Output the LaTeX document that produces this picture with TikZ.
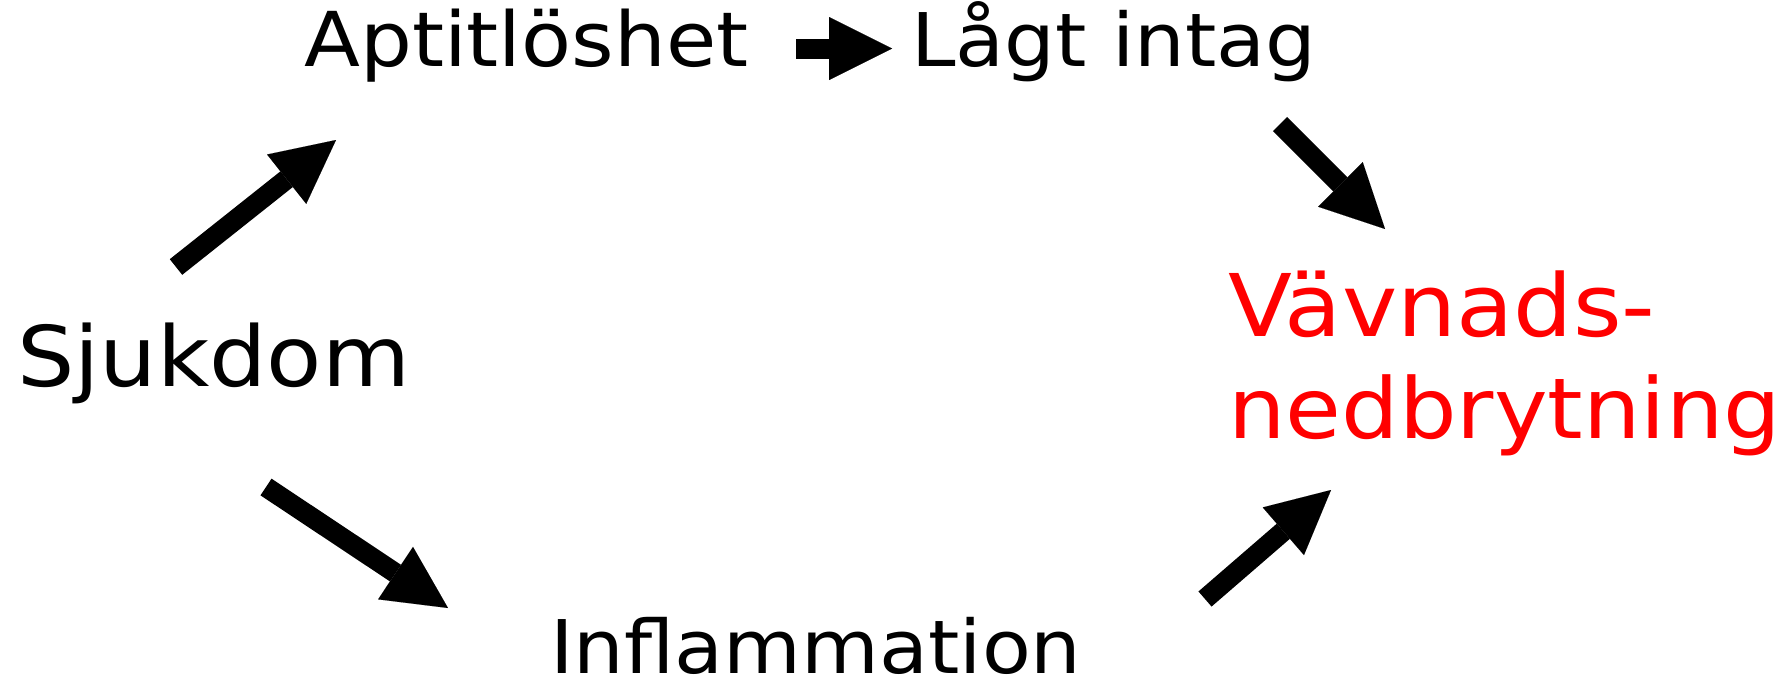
\documentclass[tikz,border=0pt]{standalone}
\usepackage{fontspec}
\setmainfont{DejaVu Sans}[FakeStretch=1.08]
\usetikzlibrary{arrows.meta}
\definecolor{txtred}{RGB}{255,0,0}
\begin{document}
\begin{tikzpicture}[x=1pt,y=-1pt,
  lbl/.style={inner sep=0pt, anchor=base west, font=\fontsize{#1}{#1}\selectfont},
  fatarrow/.style={line width=20pt, -{Triangle[length=63pt,width=63pt,line width=0.01pt]}}]
\useasboundingbox (0,0) rectangle (1785,678);
\node[lbl=75.7] (apt) at (304,66) {Aptitlöshet};
\node[lbl=74] (lag) at (911,66) {Lågt intag};
\node[lbl=83.7] (sjuk) at (17,386) {Sjukdom};
\node[lbl=74] (infl) at (550,673) {Inflammation};
\node[lbl=86.5, text=txtred] (vav) at (1228,336) {Vävnads-};
\node[lbl=84, text=txtred] (ned) at (1228,438) {nedbrytning};
\coordinate (a1s) at (176,267);
\coordinate (a1e) at (336,140);
\coordinate (a2s) at (796,48.5);
\coordinate (a2e) at (892,48.5);
\coordinate (a3s) at (1280,124);
\coordinate (a3e) at (1385,229);
\coordinate (a4s) at (266,487);
\coordinate (a4e) at (448,608);
\coordinate (a5s) at (1205,599);
\coordinate (a5e) at (1331,490);
\draw[fatarrow] (a1s) -- (a1e);
\draw[fatarrow] (a2s) -- (a2e);
\draw[fatarrow] (a3s) -- (a3e);
\draw[fatarrow] (a4s) -- (a4e);
\draw[fatarrow] (a5s) -- (a5e);
\end{tikzpicture}
\end{document}
